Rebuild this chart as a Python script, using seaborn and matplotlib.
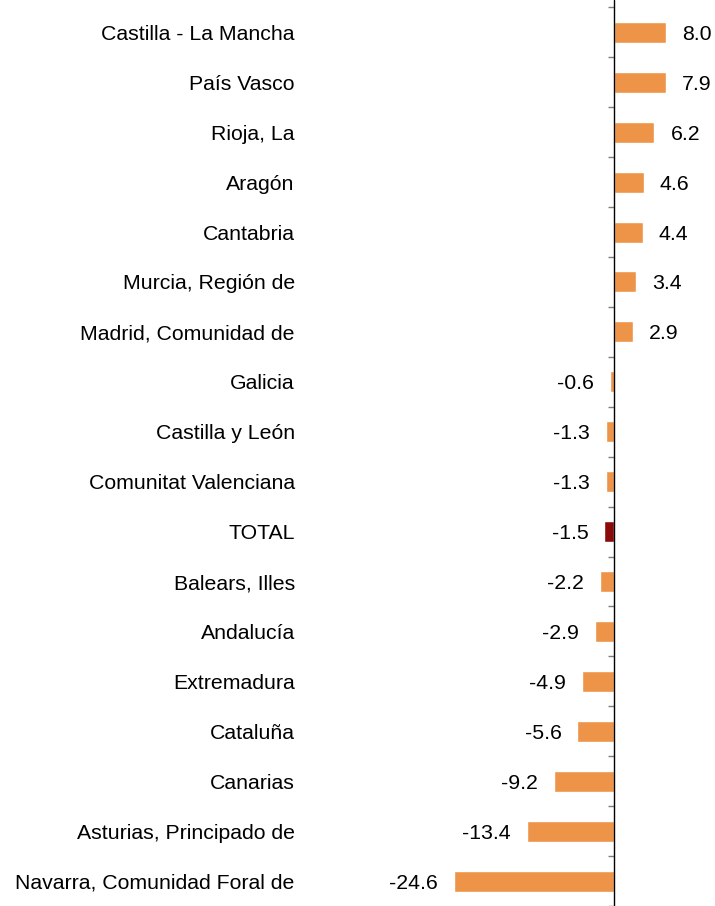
import matplotlib
matplotlib.use("Agg")
import matplotlib.pyplot as plt
import matplotlib.transforms as mtransforms
import seaborn as sns
import pandas as pd

sns.set_theme(style="white")
plt.rcParams['font.family'] = ['Liberation Sans', 'DejaVu Sans']

regiones = [
    "Castilla - La Mancha", "País Vasco", "Rioja, La", "Aragón", "Cantabria",
    "Murcia, Región de", "Madrid, Comunidad de", "Galicia", "Castilla y León",
    "Comunitat Valenciana", "TOTAL", "Balears, Illes", "Andalucía",
    "Extremadura", "Cataluña", "Canarias", "Asturias, Principado de",
    "Navarra, Comunidad Foral de",
]
valores = [8.0, 7.9, 6.2, 4.6, 4.4, 3.4, 2.9, -0.6, -1.3, -1.3, -1.5, -2.2,
           -2.9, -4.9, -5.6, -9.2, -13.4, -24.6]

naranja = "#EE9448"
rojo = "#8B0A0A"
colores = [rojo if r == "TOTAL" else naranja for r in regiones]

df = pd.DataFrame({"region": regiones, "valor": valores})

fig = plt.figure(figsize=(7.15, 9.06), dpi=100)
alto = 898.6
ax = fig.add_axes([300 / 715, 0, 415 / 715, alto / 906])

sns.barplot(data=df, x="valor", y="region", hue="region", palette=colores,
            legend=False, width=0.42, orient="h", saturation=1, ax=ax)

ax.set_xlim(-48.16, 15.49)
ax.set_ylim(17.4, -0.5)

for s in ["top", "right", "bottom", "left"]:
    ax.spines[s].set_visible(False)
ax.spines["left"].set_position(("data", 0))
ax.axvline(0, ymin=0, ymax=906 / alto, color="black", lw=1.0, clip_on=False)

ax.set_xticks([])
ax.set_yticks(range(len(regiones)))
ax.set_yticklabels([])
ax.tick_params(axis="y", which="major", length=0)
ax.set_yticks([i - 0.5 for i in range(len(regiones) + 1)], minor=True)
ax.tick_params(axis="y", which="minor", length=4.5, width=1.0, color="#7f7f7f",
               direction="out", left=True)
ax.set_xlabel("")
ax.set_ylabel("")

trans = mtransforms.blended_transform_factory(ax.transAxes, ax.transData)
for i, r in enumerate(regiones):
    ax.text(-0.0126, i, r, transform=trans, ha="right", va="center_baseline",
            fontsize=15.3, color="black")

for i, v in enumerate(valores):
    off = 11.5 if v >= 0 else -11.5
    ax.annotate(f"{v:.1f}", xy=(v, i), xytext=(off, 0), textcoords="offset points",
                ha="left" if v >= 0 else "right", va="center_baseline",
                fontsize=15.3, color="black")

fig.savefig("out.png", dpi=100)
